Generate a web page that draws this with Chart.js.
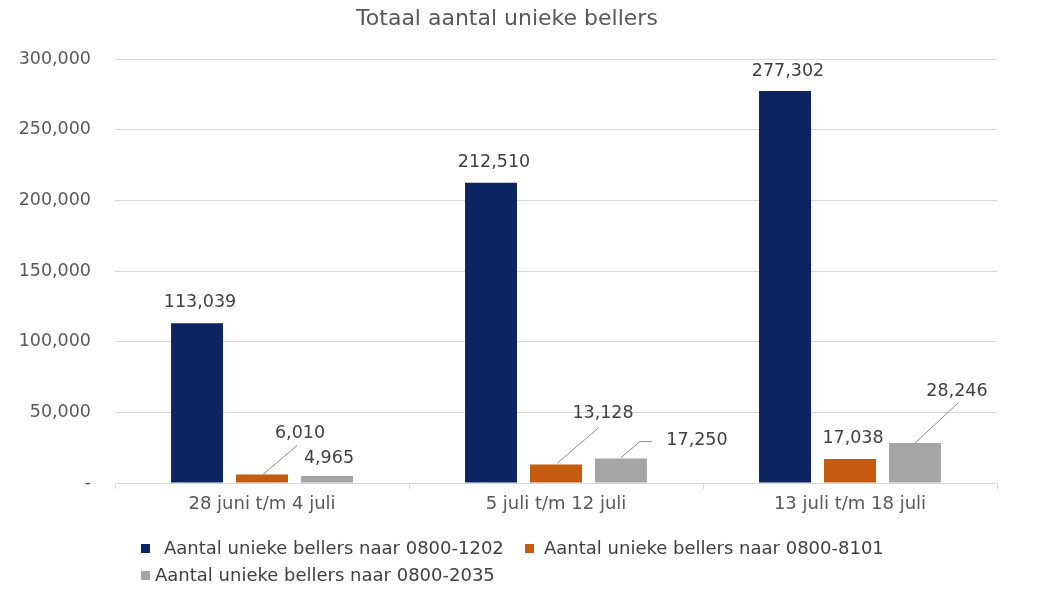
<!DOCTYPE html>
<html>
<head>
<meta charset="utf-8">
<script src="https://cdn.jsdelivr.net/npm/chart.js@4/dist/chart.umd.min.js"></script>
<style>
  body { margin: 0; background: #fff; }
  #wrap { position: relative; width: 1057px; height: 595px; }
  #title { position: absolute; left: 0; width: 1014px; top: 4px; text-align: center; font-family: "DejaVu Sans", sans-serif; font-size: 22px; line-height: 28px; color: #595959; }
  .legend-item { position: absolute; font-family: "DejaVu Sans", sans-serif; font-size: 18px; line-height: 22px; color: #404040; white-space: nowrap; }
  .legend-item span.box { position: absolute; top: 7px; width: 9px; height: 9px; }
</style>
</head>
<body>
<div id="wrap">
  <canvas id="callChart" width="1057" height="595"></canvas>
  <div id="title">Totaal aantal unieke bellers</div>
</div>
<script>
//chart data
const categories = ["28 juni t/m 4 juli", "5 juli t/m 12 juli", "13 juli t/m 18 juli"];
const seriesNames = [
  "Aantal unieke bellers naar 0800-1202",
  "Aantal unieke bellers naar 0800-8101",
  "Aantal unieke bellers naar 0800-2035"
];
const bellers1202 = [113039, 212510, 277302];
const bellers8101 = [6010, 13128, 17038];
const bellers2035 = [4965, 17250, 28246];
const yTicks = [0, 50000, 100000, 150000, 200000, 250000, 300000];

const colors = ["#0c2461", "#c55a11", "#a5a5a5"];

//label placement relative to the top of each bar (dx, dy of text centre, optional leader line)
const labelPlacement = [
  [{dx: 3, dy: -21}, {dx: 3, dy: -20}, {dx: 3, dy: -20}],
  [{dx: 38, dy: -41, leader: [[1, 0], [35, -29]]},
   {dx: 47, dy: -51, leader: [[1, -1], [43, -37]]},
   {dx: 3, dy: -20}],
  [{dx: 2, dy: -18},
   {dx: 76, dy: -18, leader: [[0, -1], [19, -17], [31, -17]]},
   {dx: 42, dy: -52, leader: [[0, 0], [43, -40]]}]
];

//legend placement: [square left, text left, centre y]
const legendPlacement = [[141, 164, 548], [525, 544, 548], [141, 155, 575]];

function fmt(v) {
  return v.toLocaleString("en-US");
}

//draws the value labels with their leader lines
const valueLabels = {
  id: "valueLabels",
  afterDatasetsDraw(chart) {
    const ctx = chart.ctx;
    ctx.save();
    ctx.font = "17.5px 'DejaVu Sans'";
    ctx.fillStyle = "#404040";
    ctx.textAlign = "center";
    ctx.textBaseline = "middle";
    chart.data.datasets.forEach((ds, di) => {
      const meta = chart.getDatasetMeta(di);
      meta.data.forEach((bar, i) => {
        const p = labelPlacement[di][i];
        if (p.leader) {
          ctx.strokeStyle = "#8c8c8c";
          ctx.lineWidth = 1;
          ctx.beginPath();
          p.leader.forEach((pt, k) => {
            const x = bar.x + pt[0];
            const y = bar.y + pt[1];
            if (k === 0) ctx.moveTo(x, y); else ctx.lineTo(x, y);
          });
          ctx.stroke();
        }
        ctx.fillText(fmt(ds.data[i]), bar.x + p.dx, bar.y + p.dy);
      });
    });
    ctx.restore();
  }
};

const datasets = [bellers1202, bellers8101, bellers2035].map((vals, i) => ({
  label: seriesNames[i],
  data: vals,
  backgroundColor: colors[i],
  categoryPercentage: 0.663,
  barPercentage: 0.8
}));

new Chart(document.getElementById("callChart"), {
  type: "bar",
  data: { labels: categories, datasets: datasets },
  plugins: [valueLabels],
  options: {
    responsive: false,
    animation: false,
    layout: { padding: { left: 0, right: 60, top: 59, bottom: 0 } },
    plugins: {
      legend: { display: false },
      tooltip: { enabled: false },
      title: { display: false }
    },
    scales: {
      x: {
        grid: { offset: true, drawOnChartArea: false, drawTicks: true, tickLength: 6, color: "#d9d9d9" },
        border: { display: true, color: "#d9d9d9" },
        ticks: { color: "#595959", padding: 5, font: { family: "DejaVu Sans", size: 18 } },
        afterFit(scale) { scale.height = 112; }
      },
      y: {
        min: 0,
        max: 300000,
        afterBuildTicks(scale) { scale.ticks = yTicks.map(v => ({ value: v })); },
        grid: { color: "#d9d9d9", drawTicks: false },
        border: { display: false },
        ticks: {
          color: "#595959",
          padding: 24,
          font: { family: "DejaVu Sans", size: 17.5 },
          callback: v => v === 0 ? "-" : fmt(v)
        },
        afterFit(scale) { scale.width = 115; }
      }
    }
  }
});

//legend built as html under the chart
const wrap = document.getElementById("wrap");
seriesNames.forEach((name, i) => {
  const pos = legendPlacement[i];
  const item = document.createElement("div");
  item.className = "legend-item";
  item.style.left = pos[0] + "px";
  item.style.top = (pos[2] - 11) + "px";
  item.style.paddingLeft = (pos[1] - pos[0]) + "px";
  item.innerHTML = '<span class="box" style="left:0;background:' + colors[i] + '"></span>' + name;
  wrap.appendChild(item);
});
</script>
</body>
</html>
